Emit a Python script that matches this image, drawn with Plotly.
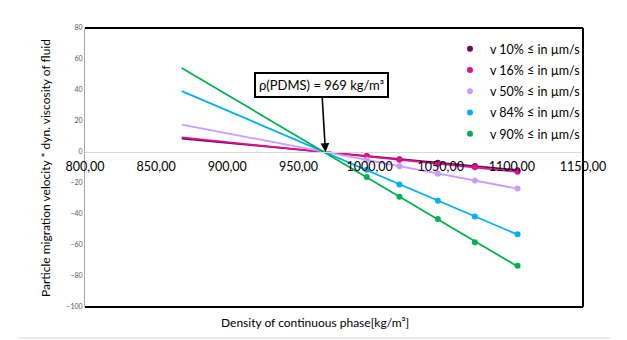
import numpy as np
import plotly.graph_objects as go

# ---- data ----
density = [998, 1021, 1048, 1074, 1104]          # kg/m3
series_names = ["v 10% ≤ in µm/s", "v 16% ≤ in µm/s", "v 50% ≤ in µm/s",
                "v 84% ≤ in µm/s", "v 90% ≤ in µm/s"]
v10 = [-2.5, -4.6, -6.9, -9.1, -11.7]
v16 = [-2.8, -5.0, -7.6, -9.9, -12.8]
v50 = [-5.0, -9.2, -14.0, -18.4, -23.6]
v84 = [-11.4, -21.0, -31.4, -41.6, -53.1]
v90 = [-16.2, -28.8, -43.3, -58.3, -73.4]
colors = ["#6b0a5e", "#e0108f", "#cc99ff", "#00b0f0", "#00b050"]
backward_forecast = 130   # trendline extended backward (kg/m3)
pdms_density = 969
x_ticks = [800, 850, 900, 950, 1000, 1050, 1100, 1150]
y_ticks = [-100, -80, -60, -40, -20, 0, 20, 40, 60, 80]

series = [v10, v16, v50, v84, v90]

FONT = "Lato, 'Noto Sans', sans-serif"
fig = go.Figure()

# linear trendlines (drawn first, below markers)
for vals, col in zip(series, colors):
    k, d = np.polyfit(density, vals, 1)
    xs = np.array([min(density) - backward_forecast, max(density)])
    fig.add_trace(go.Scatter(x=xs, y=k * xs + d, mode="lines",
                             line=dict(color=col, width=1.75),
                             showlegend=False, hoverinfo="skip"))

for i, (name, vals, col) in enumerate(zip(series_names, series, colors)):
    fig.add_trace(go.Scatter(x=density, y=vals, mode="markers", name=name,
                             legendgroup=f"g{i}",
                             marker=dict(color=col, size=6)))

L, R, T, B = 85, 44, 28, 33
W, H = 627, 340
pw, ph = W - L - R, H - T - B

def px_x(px):
    return (px - L) / pw

def px_y(py):
    return (H - B - py) / ph

zero_pos = (0 - y_ticks[0]) / (y_ticks[-1] - y_ticks[0])

fig.update_layout(
    width=W, height=H,
    margin=dict(l=L, r=R, t=T, b=B),
    paper_bgcolor="white", plot_bgcolor="white",
    separators=", ",
    font=dict(family=FONT, color="#000000"),
    showlegend=True,
    legend=dict(x=px_x(450), y=px_y(34), xanchor="left", yanchor="top",
                font=dict(size=12.5, family=FONT), bgcolor="rgba(0,0,0,0)",
                tracegroupgap=2, itemclick=False),
    xaxis=dict(range=[x_ticks[0], x_ticks[-1]], tickvals=x_ticks,
               tickformat=".2f", showgrid=False, zeroline=False,
               showline=True, linecolor="#d9d9d9", linewidth=1,
               anchor="free", position=zero_pos, ticks="",
               ticklabelstandoff=3,
               tickfont=dict(size=12.5, color="#000000", family=FONT)),
    yaxis=dict(range=[y_ticks[0], y_ticks[-1]], tickvals=y_ticks,
               showgrid=False, zeroline=False,
               showline=True, linecolor="#a6a6a6", linewidth=1, ticks="",
               tickfont=dict(size=7, color="#595959", family=FONT)),
)

# frame: top, right, bottom black; chart border bottom light grey
fig.add_shape(type="line", xref="paper", yref="paper", x0=0, x1=1, y0=1, y1=1,
              line=dict(color="black", width=2))
fig.add_shape(type="line", xref="paper", yref="paper", x0=1, x1=1, y0=0, y1=1,
              line=dict(color="black", width=2))
fig.add_shape(type="line", xref="paper", yref="paper", x0=0, x1=1, y0=0, y1=0,
              line=dict(color="black", width=2))
fig.add_shape(type="line", xref="paper", yref="paper",
              x0=px_x(18), x1=px_x(610), y0=px_y(338), y1=px_y(338),
              line=dict(color="#d9d9d9", width=1))

# axis titles
fig.add_annotation(text="Density of continuous phase[kg/m³]", xref="paper", yref="paper",
                   x=px_x(315), y=px_y(322), xanchor="center", yanchor="middle",
                   showarrow=False, font=dict(size=12, family=FONT))
fig.add_annotation(text="Particle migration velocity * dyn. viscosity of fluid",
                   xref="paper", yref="paper", x=px_x(45), y=px_y(168),
                   xanchor="center", yanchor="middle",
                   textangle=-90, showarrow=False, font=dict(size=12, family=FONT))

# PDMS annotation
fig.add_annotation(text="ρ(PDMS) = 969 kg/m³", x=pdms_density, y=0, xref="x", yref="y",
                   ax=-4, ay=-67, showarrow=True, arrowhead=2, arrowsize=1.1,
                   arrowwidth=1.6, arrowcolor="black",
                   bordercolor="black", borderwidth=2, borderpad=3, bgcolor="white",
                   font=dict(size=13, family=FONT))

fig.write_html("out.html")
